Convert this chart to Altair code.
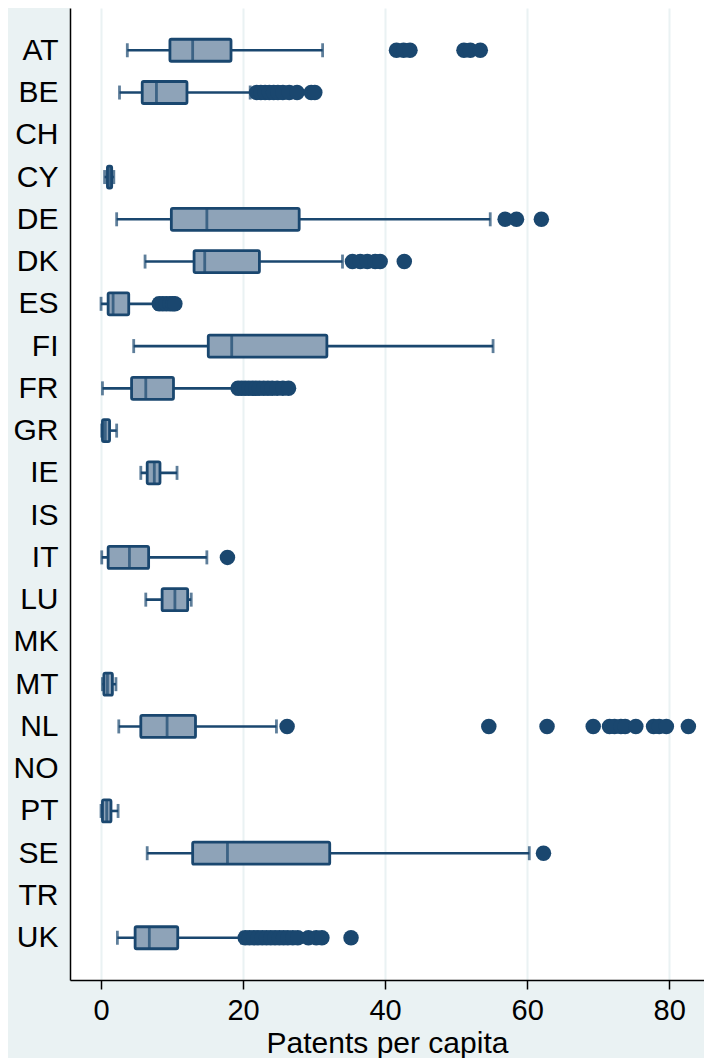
import altair as alt
import pandas as pd

countries = ["AT", "BE", "CH", "CY", "DE", "DK", "ES", "FI", "FR", "GR", "IE",
             "IS", "IT", "LU", "MK", "MT", "NL", "NO", "PT", "SE", "TR", "UK"]

# whisker low, Q1, median, Q3, whisker high (None = no data)
w_lo = [3.7, 2.6, None, 0.5, 2.2, 6.2, 0.0, 4.6, 0.2, 0.1, 5.6,
        None, 0.1, 6.3, None, 0.2, 2.5, None, 0.0, 6.5, None, 2.3]
q1 = [9.7, 5.8, None, 0.9, 9.9, 13.1, 1.0, 15.1, 4.3, 0.2, 6.5,
      None, 1.0, 8.6, None, 0.4, 5.6, None, 0.2, 12.9, None, 4.8]
med = [12.9, 7.8, None, 1.2, 14.9, 14.6, 1.7, 18.4, 6.3, 0.6, 7.5,
       None, 4.0, 10.4, None, 0.9, 9.3, None, 0.8, 17.8, None, 6.8]
q3 = [18.3, 12.1, None, 1.5, 27.9, 22.3, 3.9, 31.8, 10.2, 1.2, 8.3,
      None, 6.7, 12.2, None, 1.6, 13.3, None, 1.4, 32.2, None, 10.8]
w_hi = [31.2, 21.0, None, 1.8, 54.8, 34.0, 7.8, 55.2, 19.0, 2.2, 10.7,
        None, 14.9, 12.7, None, 2.1, 24.7, None, 2.4, 60.3, None, 19.8]

out_AT = [41.6, 42.6, 43.5, 51.1, 52.0, 53.4]
out_BE = [21.9, 22.5, 23.1, 23.7, 24.3, 24.9, 25.6, 26.5, 27.6, 29.6, 30.1]
out_DE = [56.9, 58.5, 62.0]
out_DK = [35.4, 36.5, 37.5, 38.6, 39.3, 42.7]
out_ES = [8.2, 8.7, 9.2, 9.7, 10.1, 10.4]
out_FR = [19.3, 19.8, 20.3, 20.8, 21.3, 21.8, 22.3, 22.9, 23.5, 24.1, 24.8, 25.6, 26.4]
out_IT = [17.8]
out_NL = [26.2, 54.6, 62.8, 69.3, 71.6, 72.3, 73.2, 73.8, 75.3, 77.8, 78.6, 79.6, 82.7]
out_SE = [62.3]
out_UK = [20.3, 20.9, 21.5, 22.1, 22.7, 23.3, 23.9, 24.5, 25.1, 25.7, 26.3,
          27.0, 27.7, 29.2, 30.3, 31.1, 35.2]

outliers = {"AT": out_AT, "BE": out_BE, "DE": out_DE, "DK": out_DK, "ES": out_ES,
            "FR": out_FR, "IT": out_IT, "NL": out_NL, "SE": out_SE, "UK": out_UK}

x_ticks = [0, 20, 40, 60, 80]

NAVY = "#1A476F"
BOXFILL = "#8EA3B8"
BG = "#EAF2F3"
FONT = "Liberation Sans"

stats = pd.DataFrame({"country": countries, "lo": w_lo, "q1": q1, "med": med,
                      "q3": q3, "hi": w_hi}).dropna()
out_rows = [{"country": c, "v": v} for c, vals in outliers.items() for v in vals]
outs = pd.DataFrame(out_rows)

y_enc = alt.Y("country:N", sort=countries,
              scale=alt.Scale(type="point", domain=countries, padding=1.07),
              axis=alt.Axis(title=None, ticks=False, labelFontSize=30,
                            labelPadding=12, labelColor="black", labelFont=FONT,
                            domainColor="black", domainWidth=1.5, grid=False,
                            minExtent=62, maxExtent=62))

x_scale = alt.Scale(domain=[-4.37, 84.9], nice=False, zero=False)
x_axis = alt.Axis(title="Patents per capita", values=x_ticks, format="d",
                  grid=True, gridColor=BG, gridWidth=2,
                  domainColor="black", domainWidth=1.5,
                  tickColor="black", tickWidth=1.5, tickSize=9,
                  labelFontSize=29, labelColor="black", labelFont=FONT,
                  labelPadding=7,
                  titleFontSize=30, titleColor="black", titleFont=FONT,
                  titleFontWeight="normal", titlePadding=3)

base = alt.Chart(stats)

whisk = base.mark_rule(color=NAVY, strokeWidth=2.6).encode(
    x=alt.X("lo:Q", scale=x_scale, axis=x_axis), x2="hi:Q", y=y_enc)

cap_lo = base.mark_tick(color=NAVY, orient="vertical", size=14, thickness=2.8).encode(
    x=alt.X("lo:Q", scale=x_scale), y=alt.Y("country:N", sort=countries))
cap_hi = base.mark_tick(color=NAVY, orient="vertical", size=14, thickness=2.8).encode(
    x=alt.X("hi:Q", scale=x_scale), y=alt.Y("country:N", sort=countries))

box = base.mark_bar(size=22, fill=BOXFILL, stroke=NAVY, strokeWidth=2.8,
                    cornerRadius=1.5).encode(
    x=alt.X("q1:Q", scale=x_scale), x2="q3:Q", y=alt.Y("country:N", sort=countries))

median = base.mark_tick(color=NAVY, orient="vertical", size=22, thickness=2.8).encode(
    x=alt.X("med:Q", scale=x_scale), y=alt.Y("country:N", sort=countries))

pts = alt.Chart(outs).mark_circle(color=NAVY, opacity=1, size=240).encode(
    x=alt.X("v:Q", scale=x_scale), y=alt.Y("country:N", sort=countries))

chart = alt.layer(whisk, cap_lo, cap_hi, box, median, pts).properties(
    width=634, height=972, background=BG,
    padding={"left": 0, "top": 0, "right": 0, "bottom": 0}
).configure_view(fill="white", stroke=None)

chart.save("out.html", embed_options={"renderer": "svg", "actions": False})
